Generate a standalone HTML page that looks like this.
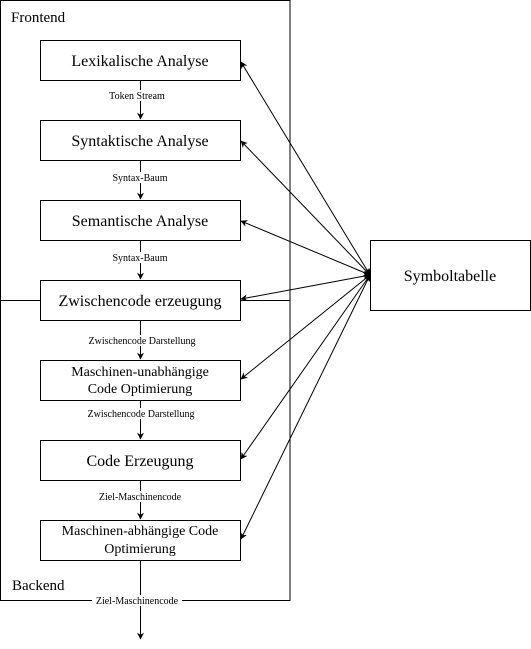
<!DOCTYPE html>
<html><head><meta charset="utf-8"><style>
html,body{margin:0;padding:0;background:#fff;}
svg{display:block;}
</style></head><body>
<svg width="531" height="649" viewBox="0 0 531 649" xmlns="http://www.w3.org/2000/svg" font-family="'Liberation Serif', 'DejaVu Serif', serif">
<defs>
<marker id="a" viewBox="0 0 10 10" refX="9" refY="5" markerWidth="7" markerHeight="7" orient="auto-start-reverse" markerUnits="userSpaceOnUse">
<path d="M0,0 L10,5 L0,10 L3,5 Z" fill="#000"/>
</marker>
</defs>
<rect x="0.5" y="0.5" width="289.5" height="600" fill="none" stroke="#000"/>
<line x1="0" y1="300.5" x2="40" y2="300.5" stroke="#000"/>
<line x1="240" y1="300.5" x2="290" y2="300.5" stroke="#000"/>
<text x="11" y="22" font-size="15" font-family="'Liberation Serif', serif">Frontend</text>
<text x="12" y="590" font-size="15" font-family="'Liberation Serif', serif">Backend</text>
<g fill="#fff" stroke="#000">
<rect x="40.5" y="40.5" width="200" height="40"/>
<rect x="40.5" y="120.5" width="200" height="40"/>
<rect x="40.5" y="200.5" width="200" height="40"/>
<rect x="40.5" y="280.5" width="200" height="40"/>
<rect x="40.5" y="360.5" width="200" height="40"/>
<rect x="40.5" y="440.5" width="200" height="40"/>
<rect x="40.5" y="520.5" width="200" height="40"/>
<rect x="370.5" y="240.5" width="160" height="70"/>
</g>
<g font-size="16" text-anchor="middle" font-family="'Liberation Serif', serif">
<text x="140" y="66">Lexikalische Analyse</text>
<text x="140" y="146">Syntaktische Analyse</text>
<text x="140" y="226">Semantische Analyse</text>
<text x="140" y="306">Zwischencode erzeugung</text>
<text x="140" y="376" font-size="14">Maschinen-unabhängige</text>
<text x="140" y="393" font-size="14">Code Optimierung</text>
<text x="140" y="466">Code Erzeugung</text>
<text x="140" y="535" font-size="14">Maschinen-abhängige Code</text>
<text x="140" y="553" font-size="14">Optimierung</text>
<text x="450" y="281">Symboltabelle</text>
</g>
<g stroke="#000" fill="none">
<line x1="140.5" y1="80" x2="140.5" y2="119" marker-end="url(#a)"/>
<line x1="140.5" y1="160" x2="140.5" y2="199" marker-end="url(#a)"/>
<line x1="140.5" y1="240" x2="140.5" y2="279" marker-end="url(#a)"/>
<line x1="140.5" y1="320" x2="140.5" y2="359" marker-end="url(#a)"/>
<line x1="140.5" y1="400" x2="140.5" y2="439" marker-end="url(#a)"/>
<line x1="140.5" y1="480" x2="140.5" y2="519" marker-end="url(#a)"/>
<line x1="140.5" y1="560" x2="140.5" y2="639" marker-end="url(#a)"/>
<line x1="370" y1="275" x2="241" y2="62" marker-start="url(#a)" marker-end="url(#a)"/>
<line x1="370" y1="275" x2="241" y2="141" marker-start="url(#a)" marker-end="url(#a)"/>
<line x1="370" y1="275" x2="241" y2="221" marker-start="url(#a)" marker-end="url(#a)"/>
<line x1="370" y1="275" x2="241" y2="299" marker-start="url(#a)" marker-end="url(#a)"/>
<line x1="370" y1="275" x2="241" y2="379" marker-start="url(#a)" marker-end="url(#a)"/>
<line x1="370" y1="275" x2="241" y2="459" marker-start="url(#a)" marker-end="url(#a)"/>
<line x1="370" y1="275" x2="241" y2="539" marker-start="url(#a)" marker-end="url(#a)"/>
</g>
<g font-size="10" text-anchor="middle" font-family="'Liberation Serif', serif">
<rect x="106" y="90" width="68" height="11" fill="#fff"/>
<text x="137" y="99">Token Stream</text>
<rect x="109" y="172" width="62" height="11" fill="#fff"/>
<text x="140" y="181">Syntax-Baum</text>
<rect x="109" y="252" width="62" height="11" fill="#fff"/>
<text x="140" y="261">Syntax-Baum</text>
<rect x="85" y="335" width="114" height="11" fill="#fff"/>
<text x="142" y="344">Zwischencode Darstellung</text>
<rect x="84" y="408" width="114" height="11" fill="#fff"/>
<text x="141" y="417">Zwischencode Darstellung</text>
<rect x="96" y="491" width="88" height="11" fill="#fff"/>
<text x="140" y="500">Ziel-Maschinencode</text>
<rect x="92" y="595" width="90" height="11" fill="#fff"/>
<text x="137" y="604">Ziel-Maschinencode</text>
</g>
</svg>
</body></html>
